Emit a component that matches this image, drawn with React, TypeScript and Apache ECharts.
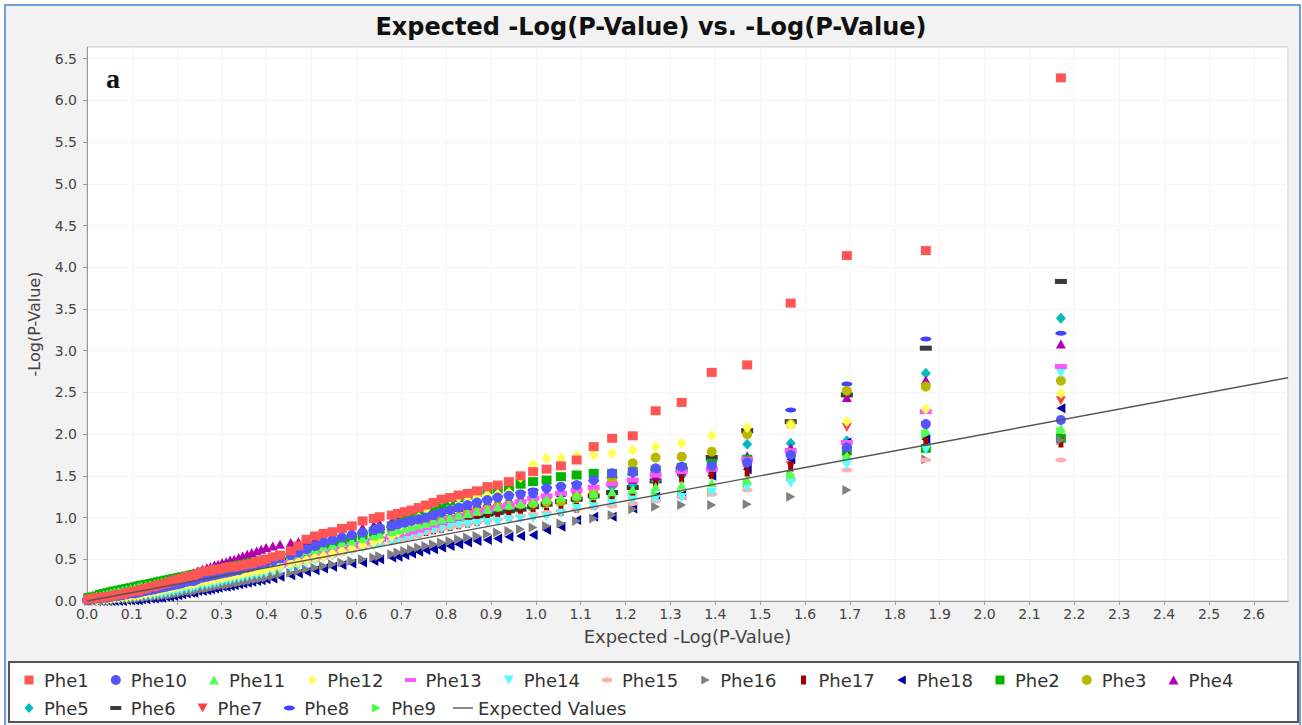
import React, { useEffect, useRef } from "react";
import * as echarts from "echarts";

// ---------- DATA ----------
const TITLE = "Expected -Log(P-Value) vs. -Log(P-Value)";
const X_NAME = "Expected -Log(P-Value)";
const Y_NAME = "-Log(P-Value)";
const PANEL_LABEL = "a";
const LINE_NAME = "Expected Values";

// expected -log10(p) of the ranked tests (shared by every phenotype)
const EXPECTED_X = [
  0.003, 0.012, 0.021, 0.029, 0.037, 0.045, 0.053, 0.061, 0.070, 0.079, 0.088, 0.097, 0.106, 0.114, 0.121, 0.131, 0.141, 0.150, 0.158,
  0.166, 0.175, 0.184, 0.193, 0.202, 0.211, 0.221, 0.231, 0.238, 0.246, 0.257, 0.267, 0.275, 0.284, 0.292, 0.301, 0.310, 0.319,
  0.328, 0.338, 0.347, 0.357, 0.367, 0.378, 0.388, 0.399, 0.414, 0.430, 0.454, 0.471, 0.489, 0.508, 0.527, 0.547, 0.568, 0.590,
  0.614, 0.639, 0.652, 0.679, 0.693, 0.708, 0.723, 0.739, 0.755, 0.772, 0.790, 0.809, 0.828, 0.848, 0.869, 0.892, 0.915,
  0.940, 0.966, 0.994, 1.024, 1.056, 1.091, 1.129, 1.170, 1.216, 1.267, 1.325, 1.392, 1.471, 1.568, 1.693, 1.869, 2.170,
];

const PHE1 = [
  0.02, 0.03, 0.04, 0.04, 0.05, 0.05, 0.06, 0.07, 0.08, 0.08, 0.10, 0.11, 0.12, 0.12, 0.14, 0.15, 0.17, 0.17, 0.19,
  0.20, 0.21, 0.23, 0.24, 0.26, 0.27, 0.29, 0.30, 0.30, 0.33, 0.35, 0.36, 0.36, 0.38, 0.38, 0.39, 0.40, 0.41,
  0.41, 0.42, 0.43, 0.44, 0.45, 0.47, 0.48, 0.50, 0.53, 0.55, 0.60, 0.66, 0.74, 0.78, 0.81, 0.83, 0.87, 0.90,
  0.96, 0.99, 1.01, 1.03, 1.05, 1.07, 1.09, 1.12, 1.15, 1.18, 1.22, 1.24, 1.27, 1.29, 1.32, 1.37, 1.39,
  1.43, 1.50, 1.55, 1.58, 1.62, 1.69, 1.85, 1.95, 1.98, 2.28, 2.38, 2.74, 2.83, 3.57, 4.14, 4.20, 6.27,
];
const PHE10 = [
  0.01, 0.02, 0.03, 0.03, 0.04, 0.04, 0.05, 0.06, 0.06, 0.07, 0.08, 0.09, 0.09, 0.10, 0.11, 0.12, 0.13, 0.14, 0.15,
  0.16, 0.17, 0.18, 0.19, 0.20, 0.21, 0.23, 0.24, 0.24, 0.26, 0.28, 0.29, 0.30, 0.31, 0.32, 0.33, 0.34, 0.35,
  0.36, 0.37, 0.39, 0.40, 0.41, 0.43, 0.45, 0.46, 0.48, 0.51, 0.55, 0.58, 0.62, 0.66, 0.70, 0.73, 0.76, 0.79,
  0.82, 0.85, 0.87, 0.90, 0.92, 0.94, 0.96, 0.98, 1.00, 1.03, 1.06, 1.09, 1.12, 1.15, 1.18, 1.21, 1.24,
  1.26, 1.28, 1.29, 1.35, 1.37, 1.39, 1.45, 1.53, 1.55, 1.59, 1.61, 1.62, 1.66, 1.75, 1.84, 2.12, 2.17,
];
const PHE11 = [
  0.03, 0.05, 0.06, 0.07, 0.08, 0.09, 0.10, 0.11, 0.12, 0.13, 0.14, 0.15, 0.16, 0.17, 0.18, 0.19, 0.20, 0.21, 0.22,
  0.23, 0.24, 0.25, 0.26, 0.27, 0.28, 0.29, 0.30, 0.30, 0.31, 0.32, 0.33, 0.34, 0.35, 0.36, 0.37, 0.38, 0.39,
  0.40, 0.41, 0.42, 0.43, 0.44, 0.45, 0.46, 0.48, 0.50, 0.52, 0.55, 0.57, 0.60, 0.62, 0.65, 0.67, 0.70, 0.72,
  0.75, 0.78, 0.80, 0.83, 0.85, 0.87, 0.89, 0.91, 0.93, 0.96, 0.98, 1.00, 1.03, 1.05, 1.08, 1.10, 1.13,
  1.15, 1.17, 1.19, 1.22, 1.24, 1.27, 1.29, 1.31, 1.34, 1.37, 1.39, 1.42, 1.45, 1.52, 1.75, 2.05, 2.07,
];
const PHE12 = [
  0.00, 0.01, 0.01, 0.02, 0.02, 0.02, 0.03, 0.04, 0.04, 0.05, 0.05, 0.06, 0.07, 0.07, 0.08, 0.09, 0.10, 0.11, 0.12,
  0.13, 0.14, 0.15, 0.16, 0.17, 0.18, 0.19, 0.20, 0.21, 0.22, 0.23, 0.24, 0.25, 0.26, 0.27, 0.28, 0.29, 0.30,
  0.31, 0.32, 0.33, 0.34, 0.35, 0.36, 0.37, 0.38, 0.40, 0.42, 0.45, 0.47, 0.49, 0.52, 0.54, 0.57, 0.60, 0.63,
  0.67, 0.71, 0.74, 0.78, 0.82, 0.86, 0.92, 1.00, 1.10, 1.18, 1.22, 1.23, 1.24, 1.25, 1.26, 1.27, 1.28,
  1.30, 1.48, 1.64, 1.71, 1.71, 1.74, 1.75, 1.77, 1.81, 1.85, 1.89, 1.98, 2.08, 2.11, 2.15, 2.30, 2.49,
];
const PHE13 = [
  0.00, 0.01, 0.02, 0.02, 0.03, 0.03, 0.04, 0.04, 0.05, 0.05, 0.06, 0.07, 0.08, 0.08, 0.09, 0.10, 0.11, 0.12, 0.13,
  0.14, 0.15, 0.16, 0.17, 0.18, 0.19, 0.20, 0.21, 0.22, 0.23, 0.24, 0.25, 0.26, 0.27, 0.28, 0.29, 0.30, 0.31,
  0.32, 0.33, 0.34, 0.35, 0.36, 0.37, 0.38, 0.39, 0.41, 0.43, 0.46, 0.48, 0.51, 0.54, 0.57, 0.60, 0.63, 0.66,
  0.69, 0.72, 0.74, 0.77, 0.79, 0.81, 0.83, 0.85, 0.88, 0.91, 0.94, 0.97, 1.00, 1.03, 1.06, 1.09, 1.12,
  1.15, 1.19, 1.23, 1.26, 1.29, 1.33, 1.36, 1.40, 1.45, 1.51, 1.55, 1.58, 1.70, 1.80, 1.90, 2.27, 2.81,
];
const PHE14 = [
  0.00, 0.00, 0.01, 0.01, 0.01, 0.02, 0.02, 0.02, 0.02, 0.03, 0.03, 0.04, 0.04, 0.05, 0.05, 0.06, 0.06, 0.07, 0.08,
  0.08, 0.09, 0.10, 0.11, 0.12, 0.13, 0.14, 0.15, 0.16, 0.17, 0.18, 0.19, 0.20, 0.21, 0.22, 0.23, 0.24, 0.25,
  0.26, 0.27, 0.28, 0.29, 0.30, 0.31, 0.32, 0.33, 0.35, 0.37, 0.40, 0.42, 0.45, 0.48, 0.51, 0.54, 0.57, 0.60,
  0.63, 0.66, 0.68, 0.71, 0.73, 0.76, 0.78, 0.80, 0.83, 0.85, 0.87, 0.89, 0.91, 0.92, 0.93, 0.94, 0.95,
  0.97, 0.98, 0.99, 1.01, 1.05, 1.11, 1.13, 1.17, 1.21, 1.22, 1.24, 1.30, 1.36, 1.41, 1.63, 1.81, 2.73,
];
const PHE15 = [
  0.00, 0.01, 0.01, 0.01, 0.02, 0.02, 0.03, 0.03, 0.04, 0.04, 0.05, 0.05, 0.06, 0.07, 0.08, 0.08, 0.09, 0.10, 0.11,
  0.12, 0.13, 0.14, 0.15, 0.16, 0.17, 0.18, 0.19, 0.20, 0.21, 0.22, 0.23, 0.24, 0.25, 0.26, 0.27, 0.28, 0.29,
  0.30, 0.31, 0.32, 0.33, 0.34, 0.35, 0.36, 0.37, 0.39, 0.41, 0.43, 0.45, 0.47, 0.49, 0.52, 0.54, 0.57, 0.60,
  0.63, 0.66, 0.68, 0.71, 0.73, 0.75, 0.77, 0.79, 0.82, 0.84, 0.86, 0.88, 0.90, 0.92, 0.94, 0.96, 0.98,
  1.00, 1.02, 1.04, 1.06, 1.08, 1.10, 1.12, 1.14, 1.17, 1.20, 1.24, 1.28, 1.33, 1.45, 1.57, 1.69, 1.69,
];
const PHE16 = [
  0.00, 0.00, 0.00, 0.00, 0.01, 0.01, 0.01, 0.01, 0.02, 0.02, 0.02, 0.02, 0.03, 0.03, 0.04, 0.04, 0.05, 0.05, 0.06,
  0.06, 0.07, 0.07, 0.08, 0.09, 0.10, 0.11, 0.12, 0.12, 0.13, 0.14, 0.15, 0.16, 0.17, 0.18, 0.19, 0.19, 0.20,
  0.21, 0.22, 0.23, 0.24, 0.25, 0.26, 0.27, 0.28, 0.30, 0.32, 0.34, 0.36, 0.38, 0.40, 0.42, 0.44, 0.46, 0.48,
  0.50, 0.52, 0.54, 0.56, 0.58, 0.60, 0.62, 0.64, 0.66, 0.68, 0.70, 0.72, 0.74, 0.76, 0.78, 0.80, 0.82,
  0.84, 0.86, 0.88, 0.90, 0.93, 0.96, 0.99, 1.03, 1.10, 1.13, 1.15, 1.15, 1.16, 1.25, 1.33, 1.70, 1.93,
];
const PHE17 = [
  0.01, 0.02, 0.03, 0.03, 0.04, 0.04, 0.05, 0.05, 0.06, 0.07, 0.08, 0.08, 0.09, 0.10, 0.11, 0.12, 0.13, 0.14, 0.15,
  0.16, 0.17, 0.18, 0.19, 0.20, 0.21, 0.22, 0.23, 0.24, 0.25, 0.26, 0.27, 0.28, 0.29, 0.30, 0.31, 0.32, 0.33,
  0.34, 0.35, 0.36, 0.37, 0.38, 0.39, 0.40, 0.41, 0.43, 0.45, 0.47, 0.49, 0.51, 0.54, 0.56, 0.58, 0.61, 0.64,
  0.67, 0.70, 0.72, 0.74, 0.76, 0.78, 0.80, 0.82, 0.84, 0.86, 0.88, 0.90, 0.92, 0.94, 0.96, 0.98, 1.00,
  1.02, 1.03, 1.04, 1.06, 1.08, 1.12, 1.15, 1.20, 1.30, 1.40, 1.48, 1.52, 1.55, 1.61, 1.80, 1.90, 1.90,
];
const PHE18 = [
  0.00, 0.00, 0.00, 0.00, 0.00, 0.00, 0.00, 0.00, 0.00, 0.00, 0.01, 0.01, 0.01, 0.01, 0.02, 0.02, 0.03, 0.03, 0.04,
  0.04, 0.05, 0.05, 0.06, 0.07, 0.08, 0.09, 0.10, 0.10, 0.12, 0.12, 0.13, 0.14, 0.15, 0.16, 0.17, 0.17, 0.18,
  0.19, 0.20, 0.21, 0.22, 0.23, 0.24, 0.25, 0.26, 0.27, 0.29, 0.31, 0.33, 0.35, 0.37, 0.39, 0.41, 0.43, 0.45,
  0.46, 0.48, 0.50, 0.52, 0.53, 0.55, 0.57, 0.59, 0.61, 0.62, 0.64, 0.66, 0.68, 0.70, 0.72, 0.73, 0.75,
  0.77, 0.78, 0.79, 0.85, 0.89, 0.97, 1.01, 1.01, 1.11, 1.25, 1.27, 1.50, 1.58, 1.70, 1.90, 1.94, 2.31,
];
const PHE2 = [
  0.04, 0.05, 0.06, 0.08, 0.09, 0.10, 0.11, 0.12, 0.13, 0.14, 0.15, 0.16, 0.17, 0.18, 0.19, 0.20, 0.21, 0.22, 0.23,
  0.24, 0.25, 0.26, 0.27, 0.28, 0.29, 0.30, 0.31, 0.32, 0.33, 0.34, 0.35, 0.36, 0.37, 0.38, 0.39, 0.40, 0.41,
  0.42, 0.43, 0.44, 0.45, 0.46, 0.47, 0.48, 0.50, 0.52, 0.54, 0.56, 0.58, 0.61, 0.64, 0.67, 0.70, 0.73, 0.76,
  0.79, 0.83, 0.86, 0.90, 0.93, 0.97, 1.00, 1.04, 1.08, 1.12, 1.16, 1.20, 1.24, 1.27, 1.30, 1.32, 1.34,
  1.36, 1.40, 1.43, 1.45, 1.49, 1.51, 1.53, 1.53, 1.55, 1.57, 1.60, 1.65, 1.70, 1.78, 1.80, 1.83, 1.95,
];
const PHE3 = [
  0.01, 0.02, 0.03, 0.03, 0.04, 0.04, 0.05, 0.06, 0.06, 0.07, 0.08, 0.09, 0.10, 0.11, 0.11, 0.12, 0.13, 0.14, 0.15,
  0.16, 0.17, 0.18, 0.19, 0.20, 0.21, 0.22, 0.23, 0.24, 0.25, 0.26, 0.27, 0.28, 0.29, 0.30, 0.31, 0.32, 0.33,
  0.34, 0.35, 0.36, 0.37, 0.38, 0.39, 0.40, 0.41, 0.43, 0.45, 0.48, 0.50, 0.52, 0.55, 0.57, 0.60, 0.62, 0.65,
  0.68, 0.71, 0.73, 0.76, 0.78, 0.81, 0.83, 0.86, 0.89, 0.92, 0.95, 0.98, 1.01, 1.04, 1.07, 1.10, 1.13,
  1.15, 1.16, 1.17, 1.19, 1.19, 1.25, 1.29, 1.45, 1.65, 1.72, 1.73, 1.79, 2.00, 2.12, 2.52, 2.57, 2.64,
];
const PHE4 = [
  0.03, 0.04, 0.05, 0.06, 0.07, 0.07, 0.08, 0.09, 0.10, 0.11, 0.12, 0.13, 0.14, 0.15, 0.16, 0.17, 0.18, 0.19, 0.20,
  0.21, 0.23, 0.24, 0.26, 0.27, 0.29, 0.31, 0.32, 0.34, 0.36, 0.38, 0.40, 0.41, 0.43, 0.44, 0.46, 0.47, 0.49,
  0.50, 0.52, 0.54, 0.56, 0.58, 0.60, 0.62, 0.64, 0.66, 0.68, 0.70, 0.71, 0.72, 0.74, 0.76, 0.78, 0.81, 0.84,
  0.88, 0.91, 0.93, 0.96, 0.98, 0.99, 1.00, 1.02, 1.04, 1.06, 1.08, 1.10, 1.12, 1.14, 1.16, 1.18, 1.20,
  1.22, 1.24, 1.26, 1.28, 1.30, 1.34, 1.38, 1.42, 1.46, 1.50, 1.56, 1.62, 1.74, 1.84, 2.44, 2.65, 3.08,
];
const PHE5 = [
  0.02, 0.03, 0.04, 0.04, 0.05, 0.06, 0.07, 0.07, 0.08, 0.09, 0.10, 0.11, 0.12, 0.13, 0.14, 0.15, 0.16, 0.17, 0.18,
  0.19, 0.20, 0.21, 0.22, 0.23, 0.24, 0.25, 0.26, 0.27, 0.28, 0.29, 0.30, 0.31, 0.32, 0.33, 0.34, 0.35, 0.36,
  0.37, 0.38, 0.39, 0.40, 0.41, 0.42, 0.43, 0.44, 0.46, 0.48, 0.51, 0.53, 0.55, 0.58, 0.60, 0.63, 0.65, 0.68,
  0.70, 0.73, 0.75, 0.78, 0.80, 0.83, 0.85, 0.88, 0.90, 0.93, 0.95, 0.98, 1.01, 1.04, 1.07, 1.10, 1.13,
  1.16, 1.19, 1.22, 1.25, 1.28, 1.31, 1.34, 1.37, 1.40, 1.44, 1.50, 1.60, 1.88, 1.89, 1.92, 2.73, 3.39,
];
const PHE6 = [
  0.01, 0.02, 0.03, 0.03, 0.04, 0.04, 0.05, 0.06, 0.07, 0.08, 0.09, 0.09, 0.10, 0.11, 0.12, 0.13, 0.14, 0.15, 0.16,
  0.17, 0.18, 0.19, 0.20, 0.21, 0.22, 0.23, 0.24, 0.25, 0.26, 0.27, 0.28, 0.29, 0.30, 0.31, 0.32, 0.33, 0.34,
  0.35, 0.36, 0.37, 0.38, 0.39, 0.40, 0.41, 0.42, 0.44, 0.46, 0.49, 0.51, 0.54, 0.56, 0.59, 0.61, 0.64, 0.66,
  0.69, 0.72, 0.74, 0.77, 0.79, 0.81, 0.83, 0.86, 0.88, 0.91, 0.93, 0.96, 0.98, 1.00, 1.02, 1.04, 1.06,
  1.08, 1.10, 1.13, 1.16, 1.19, 1.22, 1.26, 1.30, 1.36, 1.44, 1.58, 1.72, 2.04, 2.15, 2.47, 3.03, 3.83,
];
const PHE7 = [
  0.01, 0.02, 0.03, 0.03, 0.04, 0.05, 0.06, 0.06, 0.07, 0.08, 0.09, 0.10, 0.11, 0.12, 0.13, 0.14, 0.15, 0.16, 0.17,
  0.18, 0.19, 0.20, 0.21, 0.22, 0.23, 0.24, 0.26, 0.27, 0.28, 0.29, 0.30, 0.31, 0.32, 0.33, 0.34, 0.35, 0.36,
  0.37, 0.38, 0.39, 0.41, 0.42, 0.43, 0.44, 0.45, 0.47, 0.49, 0.52, 0.54, 0.57, 0.59, 0.62, 0.64, 0.67, 0.70,
  0.72, 0.75, 0.77, 0.80, 0.82, 0.84, 0.86, 0.88, 0.90, 0.93, 0.95, 0.97, 1.00, 1.02, 1.04, 1.07, 1.10,
  1.12, 1.15, 1.18, 1.22, 1.26, 1.30, 1.34, 1.38, 1.42, 1.45, 1.48, 1.50, 1.58, 1.62, 2.08, 2.10, 2.40,
];
const PHE8 = [
  0.01, 0.02, 0.03, 0.03, 0.04, 0.04, 0.05, 0.05, 0.06, 0.07, 0.08, 0.08, 0.09, 0.10, 0.11, 0.12, 0.13, 0.14, 0.15,
  0.16, 0.17, 0.18, 0.20, 0.21, 0.22, 0.23, 0.24, 0.25, 0.26, 0.28, 0.29, 0.30, 0.31, 0.32, 0.33, 0.35, 0.36,
  0.37, 0.38, 0.40, 0.41, 0.43, 0.44, 0.46, 0.47, 0.49, 0.52, 0.56, 0.60, 0.64, 0.67, 0.70, 0.72, 0.75, 0.78,
  0.81, 0.84, 0.86, 0.89, 0.91, 0.93, 0.95, 0.98, 1.01, 1.04, 1.07, 1.10, 1.13, 1.16, 1.19, 1.22, 1.25,
  1.27, 1.30, 1.33, 1.36, 1.38, 1.41, 1.44, 1.48, 1.52, 1.57, 1.62, 1.68, 2.06, 2.29, 2.60, 3.14, 3.21,
];
const PHE9 = [
  0.03, 0.04, 0.06, 0.07, 0.08, 0.09, 0.10, 0.10, 0.11, 0.12, 0.13, 0.14, 0.15, 0.16, 0.17, 0.18, 0.19, 0.20, 0.21,
  0.22, 0.23, 0.24, 0.25, 0.26, 0.27, 0.28, 0.29, 0.29, 0.30, 0.31, 0.32, 0.33, 0.34, 0.35, 0.36, 0.37, 0.38,
  0.39, 0.40, 0.41, 0.42, 0.43, 0.44, 0.45, 0.46, 0.48, 0.50, 0.53, 0.55, 0.58, 0.60, 0.63, 0.65, 0.68, 0.71,
  0.73, 0.76, 0.78, 0.81, 0.83, 0.85, 0.87, 0.89, 0.91, 0.93, 0.95, 0.97, 0.99, 1.01, 1.03, 1.05, 1.07,
  1.09, 1.11, 1.13, 1.16, 1.19, 1.21, 1.23, 1.25, 1.27, 1.28, 1.28, 1.30, 1.41, 1.51, 1.74, 2.00, 2.03,
];

// expected-values reference line (y = x)
const EXPECTED_LINE_X = [0, 2.676];
const EXPECTED_LINE_Y = [0, 2.676];

const PHENOTYPES = [
  "Phe1", "Phe10", "Phe11", "Phe12", "Phe13", "Phe14", "Phe15", "Phe16", "Phe17",
  "Phe18", "Phe2", "Phe3", "Phe4", "Phe5", "Phe6", "Phe7", "Phe8", "Phe9",
];
const VALUES = [
  PHE1, PHE10, PHE11, PHE12, PHE13, PHE14, PHE15, PHE16, PHE17,
  PHE18, PHE2, PHE3, PHE4, PHE5, PHE6, PHE7, PHE8, PHE9,
];

// ---------- STYLE ----------
const COLORS = [
  "#ff5555", "#5555ff", "#55ff55", "#ffff55", "#ff55ff", "#55ffff", "#ffafaf", "#808080", "#a00000",
  "#0000a0", "#00b400", "#b8b800", "#b000b0", "#00bcbc", "#3a3a3a", "#ff4040", "#4040ff", "#40ff40",
];

const P_SQUARE = "rect";
const P_CIRCLE = "circle";
const P_UP = "triangle";
const P_DIAMOND = "diamond";
const P_DOWN = "path://M0,0L10,0L5,9Z";
const P_ELLIPSE = "path://M0,5A10,5,0,1,1,20,5A10,5,0,1,1,0,5Z";
const P_RIGHT = "path://M0,0L9,5L0,10Z";
const P_LEFT = "path://M9,0L0,5L9,10Z";

const SHAPE_SEQ: [string, number[]][] = [
  [P_SQUARE, [10, 9]],
  [P_CIRCLE, [10, 10]],
  [P_UP, [10, 9]],
  [P_DIAMOND, [10, 11]],
  [P_SQUARE, [12, 5]],
  [P_DOWN, [10, 9]],
  [P_ELLIPSE, [11, 5]],
  [P_RIGHT, [9, 10]],
  [P_SQUARE, [5, 10]],
  [P_LEFT, [9, 10]],
];

const PAD = "path://M0,0M20,10";
const ICON_SEQ = [
  PAD + "M5.5,0.5L14.5,0.5L14.5,9.5L5.5,9.5Z",
  PAD + "M5,5A5,5,0,1,1,15,5A5,5,0,1,1,5,5Z",
  PAD + "M10,0.5L15,9.5L5,9.5Z",
  PAD + "M10,0L14.5,5L10,10L5.5,5Z",
  PAD + "M4.5,3L15.5,3L15.5,7L4.5,7Z",
  PAD + "M5,0.5L15,0.5L10,9.5Z",
  PAD + "M4.5,5A5.5,2.6,0,1,1,15.5,5A5.5,2.6,0,1,1,4.5,5Z",
  PAD + "M6,0.5L14.5,5L6,9.5Z",
  PAD + "M7.5,0.5L12.5,0.5L12.5,9.5L7.5,9.5Z",
  PAD + "M14,0.5L5.5,5L14,9.5Z",
];
const LINE_ICON = PAD + "M0,4.3L20,4.3L20,5.7L0,5.7Z";

const FONT = "DejaVu Sans";

function buildOption() {
  const scatter = PHENOTYPES.map((name, k) => {
    const [symbol, size] = SHAPE_SEQ[k % SHAPE_SEQ.length];
    const vals = VALUES[k];
    const n = Math.min(vals.length, EXPECTED_X.length);
    const data: number[][] = [];
    for (let i = 0; i < n; i++) data.push([EXPECTED_X[i], vals[i]]);
    return {
      name,
      type: "scatter",
      data,
      symbol,
      symbolSize: size,
      itemStyle: { color: COLORS[k], opacity: 1 },
      emphasis: { disabled: true },
      z: 2,
    };
  });
  // first phenotype is drawn last (on top), as in the original renderer
  const ordered = scatter.slice().reverse();

  const line = {
    name: LINE_NAME,
    type: "line",
    data: EXPECTED_LINE_X.map((x, i) => [x, EXPECTED_LINE_Y[i]]),
    symbol: "none",
    showSymbol: false,
    color: "#555555",
    itemStyle: { color: "#555555" },
    lineStyle: { color: "#555555", width: 1.4 },
    emphasis: { disabled: true },
    z: 3,
  };

  const legendText = { fontSize: 18, fontFamily: FONT, color: "#333", lineHeight: 20 };
  const legendItems = PHENOTYPES.map((name, k) => ({ name, icon: ICON_SEQ[k % ICON_SEQ.length] }));
  const row1 = legendItems.slice(0, 13);
  const row2 = [...legendItems.slice(13), { name: LINE_NAME, icon: LINE_ICON }];

  const axisCommon = {
    type: "value",
    nameLocation: "middle",
    nameTextStyle: { fontSize: 18, color: "#444", fontFamily: FONT },
    axisLine: { show: true, onZero: false, lineStyle: { color: "#9a9a9a", width: 1 } },
    axisTick: { show: true, length: 4, lineStyle: { color: "#9a9a9a" } },
    splitLine: { show: true, lineStyle: { color: "#ececec", type: "dotted", width: 1 } },
  };

  const legendCommon = {
    left: 14,
    orient: "horizontal",
    itemWidth: 20,
    itemHeight: 10,
    itemGap: 17,
    selectedMode: false,
    textStyle: legendText,
  };

  return {
    animation: false,
    backgroundColor: "transparent",
    textStyle: { fontFamily: FONT },
    title: {
      text: TITLE,
      left: "center",
      top: 10,
      textStyle: { fontSize: 24, fontWeight: "bold", color: "#111", fontFamily: FONT },
    },
    grid: {
      left: 87,
      right: 14,
      top: 47,
      bottom: 124,
      show: true,
      backgroundColor: "#ffffff",
      borderColor: "#c8c8c8",
      borderWidth: 1,
      containLabel: false,
    },
    xAxis: {
      ...axisCommon,
      min: 0,
      max: 2.676,
      interval: 0.1,
      name: X_NAME,
      nameGap: 26,
      axisLabel: {
        fontSize: 14,
        color: "#444",
        margin: 6,
        fontFamily: FONT,
        showMaxLabel: false,
        formatter: (v: number) => v.toFixed(1),
      },
    },
    yAxis: {
      ...axisCommon,
      min: 0,
      max: 6.64,
      interval: 0.5,
      name: Y_NAME,
      nameRotate: 90,
      nameGap: 45,
      nameTextStyle: { fontSize: 16, color: "#444", fontFamily: FONT },
      axisLabel: {
        fontSize: 14,
        color: "#444",
        margin: 10,
        fontFamily: FONT,
        showMaxLabel: false,
        formatter: (v: number) => v.toFixed(1),
      },
    },
    legend: [
      { ...legendCommon, data: row1, top: 665 },
      { ...legendCommon, data: row2, top: 693 },
    ],
    graphic: [
      {
        type: "text",
        x: 106,
        y: 64,
        z: 10,
        style: {
          text: PANEL_LABEL,
          font: 'bold 28px "Liberation Serif", serif',
          fill: "#111",
        },
      },
    ],
    series: [...ordered, line],
  };
}

export default function App() {
  const ref = useRef<HTMLDivElement>(null);
  useEffect(() => {
    if (!ref.current) return;
    const chart = echarts.init(ref.current, null, { renderer: "svg" });
    chart.setOption(buildOption() as any);
    return () => chart.dispose();
  }, []);
  return (
    <div
      style={{
        position: "fixed",
        left: 0,
        top: 0,
        width: 1302,
        height: 725,
        background: "#ffffff",
        overflow: "hidden",
      }}
    >
      <div
        style={{
          position: "absolute",
          left: 4,
          top: 4,
          width: 1297,
          height: 740,
          border: "2px solid #6f9fd8",
          background: "#f2f2f2",
          boxSizing: "border-box",
        }}
      />
      <div
        style={{
          position: "absolute",
          left: 8,
          top: 661,
          width: 1291,
          height: 62,
          border: "2px solid #555555",
          background: "#ffffff",
          boxSizing: "border-box",
        }}
      />
      <div ref={ref} style={{ position: "absolute", left: 0, top: 0, width: 1302, height: 725 }} />
    </div>
  );
}
